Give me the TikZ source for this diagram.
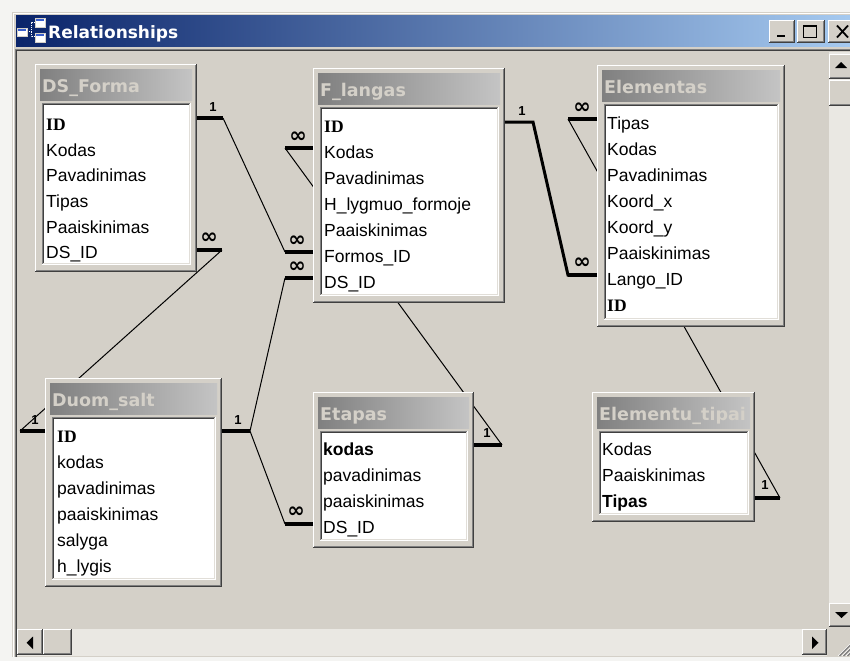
\documentclass[tikz,border=0pt]{standalone}
\usepackage{fontspec}
\setmainfont{Liberation Sans}
\newfontfamily\dvs{DejaVu Sans}
\newfontfamily\lserif{Liberation Serif}
\definecolor{winface}{HTML}{D4D0C8}
\definecolor{btnshadow}{HTML}{808080}
\definecolor{darkedge}{HTML}{404040}
\definecolor{titleL}{HTML}{0A246A}
\definecolor{titleR}{HTML}{A6CAF0}
\definecolor{capL}{HTML}{808080}
\definecolor{capR}{HTML}{C4C4C4}
\definecolor{captext}{HTML}{D4D0C8}
\definecolor{track}{HTML}{EAE8E3}
\definecolor{outside}{HTML}{F4F4F2}
\definecolor{iconblue}{HTML}{3A5FCD}

% raised 3D button face
\newcommand\rbtn[4]{%
  \fill[winface] (#1,#2) rectangle (#3,#4);
  \draw[white] ({#1+0.5},{#4-1}) -- ({#1+0.5},{#2+0.5}) -- ({#3-1},{#2+0.5});
  \draw[darkedge] ({#1},{#4-0.5}) -- ({#3-0.5},{#4-0.5}) -- ({#3-0.5},{#2});
  \draw[btnshadow] ({#1+1},{#4-1.5}) -- ({#3-1.5},{#4-1.5}) -- ({#3-1.5},{#2+1});
}

% table window: #1 name, #2 x1, #3 y1, #4 x2, #5 y2, #6 caption
\newcommand\acctable[6]{%
  \fill[winface] (#2,#3) rectangle (#4,#5);
  \draw[white] ({#2+0.5},{#5-1}) -- ({#2+0.5},{#3+0.5}) -- ({#4-1},{#3+0.5});
  \draw[darkedge,line width=1pt] ({#2},{#5-0.5}) -- ({#4-0.5},{#5-0.5}) -- ({#4-0.5},{#3});
  \draw[btnshadow] ({#2+1},{#5-1.5}) -- ({#4-1.5},{#5-1.5}) -- ({#4-1.5},{#3+1});
  \shade[left color=capL,right color=capR] ({#2+5},{#3+5}) rectangle ({#4-5},{#3+36});
  \begin{scope}
    \clip ({#2+5},{#3+5}) rectangle ({#4-5},{#3+36});
    \node[hdr] (#1) at ({#2+7},{#3+28}) {#6};
  \end{scope}
  \fill[white] ({#2+7},{#3+39}) rectangle ({#4-7},{#5-8});
  \draw[btnshadow] ({#2+7.5},{#5-8}) -- ({#2+7.5},{#3+39.5}) -- ({#4-7},{#3+39.5});
  \draw[darkedge] ({#2+8.5},{#5-9}) -- ({#2+8.5},{#3+40.5}) -- ({#4-8},{#3+40.5});
  \draw[white] ({#2+7},{#5-7.5}) -- ({#4-6.5},{#5-7.5}) -- ({#4-6.5},{#3+39});
  \draw[winface!70!white] ({#2+8},{#5-8.5}) -- ({#4-7.5},{#5-8.5}) -- ({#4-7.5},{#3+40});
}

\begin{document}
\begin{tikzpicture}[x=1pt,y=-1pt,
  fld/.style={anchor=base west,inner sep=0pt,font=\fontsize{17.5}{20}\selectfont},
  fldkey/.style={anchor=base west,inner sep=0pt,font=\fontsize{17.5}{20}\selectfont\bfseries},
  fldid/.style={anchor=base west,inner sep=0pt,font=\lserif\bfseries\fontsize{17.5}{20}\selectfont},
  hdr/.style={anchor=base west,inner sep=0pt,text=captext,font=\dvs\bfseries\fontsize{17.5}{20}\selectfont},
  one/.style={inner sep=0pt,font=\bfseries\fontsize{13}{14}\selectfont},
  many/.style={inner sep=0pt,font=\dvs\bfseries\fontsize{21}{21}\selectfont},
  stub/.style={line width=3.5pt},
  rel/.style={line width=1pt},
  relsel/.style={line width=3pt},
  iconbox/.style={fill=white,draw=winface,line width=0.8pt},
  wintitle/.style={anchor=base west,inner sep=0pt,text=white,font=\dvs\bfseries\fontsize{17}{18}\selectfont}]

\useasboundingbox (0,0) rectangle (850,661);
\clip (0,0) rectangle (850,661);

% ---------- window chrome ----------
\fill[outside] (0,0) rectangle (850,661);
\fill[winface] (12,12) rectangle (860,657);
\draw[white] (13.5,657) -- (13.5,13.5) -- (860,13.5);
\shade[left color=titleL,right color=titleR] (16,16) rectangle (852,47);

% title icon: three linked little tables
\draw[densely dotted,white,line width=1pt] (27,32) -- (31,32) -- (31,23) -- (35,23) (31,32) -- (31,37) -- (35,37);
\foreach \bx/\by/\bw/\bh in {17/28/10/8, 35/18/10/9, 35/33/10/9}{
  \filldraw[iconbox] (\bx,\by) rectangle ({\bx+\bw},{\by+\bh});
  \fill[iconblue] ({\bx+1},{\by+1}) rectangle ({\bx+\bw-1},{\by+3.5});
}
\node[wintitle] (wintitle) at (48,38) {Relationships};

% caption buttons
\rbtn{769}{20}{795}{43}
\fill[black] (777,35) rectangle (785,37.5);
\rbtn{797}{20}{825}{43}
\draw[black,line width=1pt] (803.5,25.5) rectangle (816.5,37.5);
\fill[black] (803,25) rectangle (817,27);
\rbtn{828}{20}{856}{43}
\draw[black,line width=1.8pt] (837,25.5) -- (848,37.5) (848,25.5) -- (837,37.5);

% client area
\fill[winface] (16,50) rectangle (852,657);
\draw[btnshadow] (15.5,657) -- (15.5,49.5) -- (852,49.5);
\draw[darkedge] (16.5,657) -- (16.5,50.5) -- (852,50.5);

% vertical scroll bar
\fill[track] (829,52) rectangle (852,628);
\rbtn{829}{54}{852}{79}
\fill[black] (835,68) -- (847,68) -- (841,62) -- cycle;
\rbtn{829}{80}{852}{106}
\rbtn{829}{603}{852}{627}
\fill[black] (835,612) -- (848,612) -- (841.5,618) -- cycle;

% horizontal scroll bar
\fill[track] (17,629) rectangle (829,656);
\rbtn{17}{629}{43}{655}
\fill[black] (33,636.5) -- (33,649) -- (26.5,642.75) -- cycle;
\rbtn{43}{629}{72}{655}
\rbtn{802}{629}{827}{655}
\fill[black] (812,636.5) -- (812,649) -- (818.5,642.75) -- cycle;
\fill[winface] (827,627) rectangle (852,657);
\foreach \d in {0,4,8}{
  \draw[white] ({838+\d},656) -- (852,{642+\d});
  \draw[btnshadow,line width=1.2pt] ({839.5+\d},656) -- (852,{643.5+\d});
}
\fill[outside] (0,657) rectangle (850,661);

% ---------- relationship anchors (table side -> outer end) ----------
\coordinate (s1a) at (197,118);  \coordinate (s1b) at (223,118);
\coordinate (s2a) at (197,250);  \coordinate (s2b) at (222,250);
\coordinate (s3a) at (313,148);  \coordinate (s3b) at (285,148);
\coordinate (s4a) at (313,252);  \coordinate (s4b) at (285,252);
\coordinate (s5a) at (313,278);  \coordinate (s5b) at (285,278);
\coordinate (s6a) at (505,122);  \coordinate (s6b) at (533,122);
\coordinate (s7a) at (597,119);  \coordinate (s7b) at (568,119);
\coordinate (s8a) at (597,275);  \coordinate (s8b) at (568,275);
\coordinate (s9a) at (45,431);   \coordinate (s9b) at (20,431);
\coordinate (s10a) at (222,431); \coordinate (s10b) at (250,431);
\coordinate (s11a) at (313,524); \coordinate (s11b) at (285,524);
\coordinate (s12a) at (474,445); \coordinate (s12b) at (502,445);
\coordinate (s13a) at (755,498); \coordinate (s13b) at (780,498);

% join lines (behind the tables)
\draw[rel] (s1b) -- (s4b);
\draw[rel] (s2b) -- (s9b);
\draw[rel] (s10b) -- (s5b);
\draw[rel] (s10b) -- (s11b);
\draw[rel] (s3b) -- (s12b);
\draw[rel] (s7b) -- (s13b);
\draw[relsel,line join=miter] (s6a) -- (s6b) -- (s8b) -- (s8a);

% ---------- tables ----------
\acctable{dsforma}{35}{64}{197}{272}{DS\_Forma}
\node[fldid] (dsf-id)   at (46,130) {ID};
\node[fld] (dsf-kodas)  at (46,156) {Kodas};
\node[fld] (dsf-pav)    at (46,181) {Pavadinimas};
\node[fld] (dsf-tipas)  at (46,207) {Tipas};
\node[fld] (dsf-paa)    at (46,233) {Paaiskinimas};
\node[fld] (dsf-dsid)   at (46,258) {DS\_ID};

\acctable{flangas}{313}{68}{505}{303}{F\_langas}
\node[fldid] (fl-id)    at (324,132) {ID};
\node[fld] (fl-kodas)   at (324,158) {Kodas};
\node[fld] (fl-pav)     at (324,184) {Pavadinimas};
\node[fld] (fl-hlyg)    at (324,210) {H\_lygmuo\_formoje};
\node[fld] (fl-paa)     at (324,236) {Paaiskinimas};
\node[fld] (fl-formos)  at (324,262) {Formos\_ID};
\node[fld] (fl-dsid)    at (324,288) {DS\_ID};

\acctable{elementas}{597}{65}{785}{327}{Elementas}
\node[fld] (el-tipas)   at (607,129) {Tipas};
\node[fld] (el-kodas)   at (607,155) {Kodas};
\node[fld] (el-pav)     at (607,181) {Pavadinimas};
\node[fld] (el-kx)      at (607,207) {Koord\_x};
\node[fld] (el-ky)      at (607,233) {Koord\_y};
\node[fld] (el-paa)     at (607,259) {Paaiskinimas};
\node[fld] (el-lango)   at (607,285) {Lango\_ID};
\node[fldid] (el-id)    at (607,311) {ID};

\acctable{duomsalt}{45}{378}{222}{587}{Duom\_salt}
\node[fldid] (ds-id)    at (57,442) {ID};
\node[fld] (ds-kodas)   at (57,468) {kodas};
\node[fld] (ds-pav)     at (57,494) {pavadinimas};
\node[fld] (ds-paa)     at (57,520) {paaiskinimas};
\node[fld] (ds-salyga)  at (57,546) {salyga};
\node[fld] (ds-hlyg)    at (57,572) {h\_lygis};

\acctable{etapas}{313}{392}{474}{548}{Etapas}
\node[fldkey] (et-kodas) at (323,455) {kodas};
\node[fld] (et-pav)     at (323,481) {pavadinimas};
\node[fld] (et-paa)     at (323,507) {paaiskinimas};
\node[fld] (et-dsid)    at (323,533) {DS\_ID};

\acctable{eltipai}{592}{392}{755}{522}{Elementu\_tipai}
\node[fld] (et2-kodas)  at (602,455) {Kodas};
\node[fld] (et2-paa)    at (602,481) {Paaiskinimas};
\node[fldkey] (et2-tipas) at (602,507) {Tipas};

% ---------- join stubs and cardinality marks ----------
\foreach \s in {1,2,3,4,5,7,9,10,11,12,13}{
  \draw[stub] (s\s a) -- (s\s b);
}
\draw[stub] (s8a) -- (s8b);

\node[one]  (m1)  at (213,107) {1};
\node[many] (m2)  at (209,238) {∞};
\node[many] (m3)  at (298,137) {∞};
\node[many] (m4)  at (297,241) {∞};
\node[many] (m5)  at (297,267) {∞};
\node[one]  (m6)  at (522,111) {1};
\node[many] (m7)  at (582,108) {∞};
\node[many] (m8)  at (582,263) {∞};
\node[one]  (m9)  at (35,420)  {1};
\node[one]  (m10) at (238,420) {1};
\node[many] (m11) at (296,512) {∞};
\node[one]  (m12) at (487,433) {1};
\node[one]  (m13) at (765,485) {1};
\end{tikzpicture}
\end{document}
